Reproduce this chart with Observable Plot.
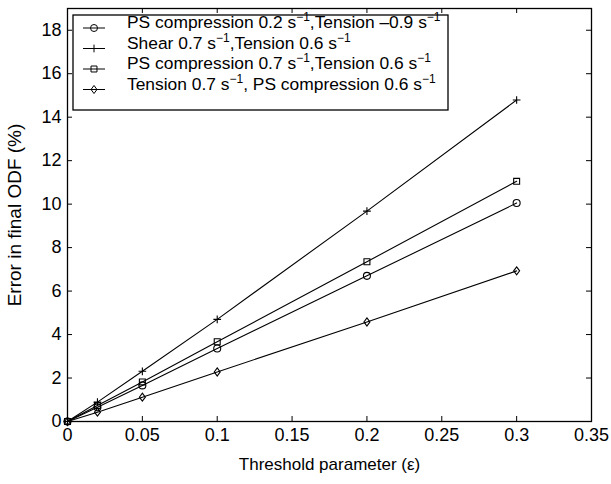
<!DOCTYPE html>
<html>
<head>
<meta charset="utf-8">
<script src="https://cdn.jsdelivr.net/npm/d3@7"></script>
<script src="https://cdn.jsdelivr.net/npm/@observablehq/plot@0.6"></script>
<style>
  html, body { margin: 0; padding: 0; background: #fff; }
  #chart { width: 611px; height: 484px; }
  #chart svg { font-family: "Liberation Sans", Arial, Helvetica, sans-serif; }
  #chart svg text { font-size: 18px; }
  #chart svg g[aria-label="x-axis label"] text { font-size: 17px; }
  #chart svg g[aria-label="y-axis label"] text { font-size: 19px; }
</style>
</head>
<body>
<div id="chart"></div>
<script>
// ---- data ----
const thresholds = [0, 0.02, 0.05, 0.1, 0.2, 0.3];
const psComp02 = [0, 0.65, 1.66, 3.36, 6.70, 10.05];
const shear07 = [0, 0.89, 2.31, 4.70, 9.68, 14.79];
const psComp07 = [0, 0.74, 1.82, 3.67, 7.35, 11.05];
const tension07 = [0, 0.43, 1.12, 2.28, 4.58, 6.93];
const seriesKeys = ["psComp02", "shear07", "psComp07", "tension07"];
const seriesValues = [psComp02, shear07, psComp07, tension07];
// legend labels: segments, "^" marks superscript
const legendLabels = [
  [["PS compression 0.2 s", ""], ["−1", "^"], [",Tension –0.9 s", ""], ["−1", "^"]],
  [["Shear 0.7 s", ""], ["−1", "^"], [",Tension 0.6 s", ""], ["−1", "^"]],
  [["PS compression 0.7 s", ""], ["−1", "^"], [",Tension 0.6 s", ""], ["−1", "^"]],
  [["Tension 0.7 s", ""], ["−1", "^"], [", PS compression 0.6 s", ""], ["−1", "^"]]
];
const xTicks = [0, 0.05, 0.1, 0.15, 0.2, 0.25, 0.3, 0.35];
const yTicks = [0, 2, 4, 6, 8, 10, 12, 14, 16, 18];
const xLabel = "Threshold parameter (ε)";
const yLabel = "Error in final ODF (%)";

// ---- symbols ----
const rad = s => Math.sqrt(s / Math.PI);
const symCircle = {draw(c, s) { const r = rad(s); c.moveTo(r, 0); c.arc(0, 0, r, 0, 2 * Math.PI); c.closePath(); }};
const symPlus = {draw(c, s) { const r = rad(s) * 1.1; c.moveTo(-r, 0); c.lineTo(r, 0); c.moveTo(0, -r); c.lineTo(0, r); }};
const symSquare = {draw(c, s) { const r = rad(s) * 0.85; c.rect(-r, -r, 2 * r, 2 * r); }};
const symDiamond = {draw(c, s) { const r = rad(s); c.moveTo(0, -r * 1.15); c.lineTo(r * 0.85, 0); c.lineTo(0, r * 1.15); c.lineTo(-r * 0.85, 0); c.closePath(); }};
const symbols = [symCircle, symPlus, symSquare, symDiamond];

const rows = [];
seriesKeys.forEach((k, i) => thresholds.forEach((t, j) => rows.push({series: k, x: t, y: seriesValues[i][j]})));

const W = 611, H = 484;
const mT = 8, mR = 20, mB = 63, mL = 67;
const innerW = W - mL - mR, innerH = H - mT - mB;
const tk = 5;

const marks = [];
seriesKeys.forEach((k, i) => {
  const d = rows.filter(r => r.series === k);
  marks.push(Plot.line(d, {x: "x", y: "y", stroke: "black", strokeWidth: 1.1}));
  marks.push(Plot.dot(d, {x: "x", y: "y", symbol: symbols[i], r: 3.5, stroke: "black", fill: "none", strokeWidth: 1.1}));
});

const chart = Plot.plot({
  width: W, height: H,
  marginTop: mT, marginRight: mR, marginBottom: mB, marginLeft: mL,
  style: {fontFamily: '"Liberation Sans", Arial, sans-serif', fontSize: "18px", color: "black", background: "white"},
  x: {domain: [0, 0.35]},
  y: {domain: [0, 19]},
  marks: [
    Plot.ruleX(xTicks, {x: d => d, insetTop: innerH - tk, stroke: "black"}),
    Plot.ruleX(xTicks, {x: d => d, insetBottom: innerH - tk, stroke: "black"}),
    Plot.ruleY(yTicks, {y: d => d, insetRight: innerW - tk, stroke: "black"}),
    Plot.ruleY(yTicks, {y: d => d, insetLeft: innerW - tk, stroke: "black"}),
    Plot.axisX({ticks: xTicks, tickSize: 0, tickPadding: 7, tickFormat: d => String(d), label: xLabel, labelAnchor: "center", labelArrow: "none", labelOffset: 48}),
    Plot.axisY({ticks: yTicks, tickSize: 0, tickPadding: 6, tickFormat: d => String(d), label: yLabel, labelAnchor: "center", labelArrow: "none", labelOffset: 60}),
    ...marks,
    Plot.frame({stroke: "black", strokeWidth: 1.3})
  ]
});
document.getElementById("chart").appendChild(chart);

// ---- legend (inside axes, top-left) ----
const svg = d3.select(chart);
const lg = svg.append("g").attr("font-family", '"Liberation Sans", Arial, sans-serif').attr("text-anchor", "start");
const bx = 73, by = 15, bw = 375, bh = 95;
lg.append("rect").attr("x", bx).attr("y", by).attr("width", bw).attr("height", bh)
  .attr("fill", "white").attr("stroke", "black").attr("stroke-width", 1.3);
const rowY = [28, 48.5, 69, 89.5];
legendLabels.forEach((segs, i) => {
  const y = rowY[i];
  lg.append("line").attr("x1", 83).attr("x2", 105).attr("y1", y).attr("y2", y).attr("stroke", "black");
  const p = d3.path();
  symbols[i].draw(p, 3.5 * 3.5 * Math.PI);
  lg.append("path").attr("d", p.toString()).attr("transform", `translate(94,${y})`).attr("fill", "none").attr("stroke", "black");
  const t = lg.append("text").attr("x", 127).attr("y", y).attr("dy", "0.35em").attr("text-anchor", "start").style("font-size", "17.4px");
  segs.forEach(([s, kind], j) => {
    if (kind === "^") t.append("tspan").style("font-size", "12px").attr("dy", -7).text(s);
    else t.append("tspan").attr("dy", j ? 7 : 0).text(s);
  });
});
</script>
</body>
</html>
